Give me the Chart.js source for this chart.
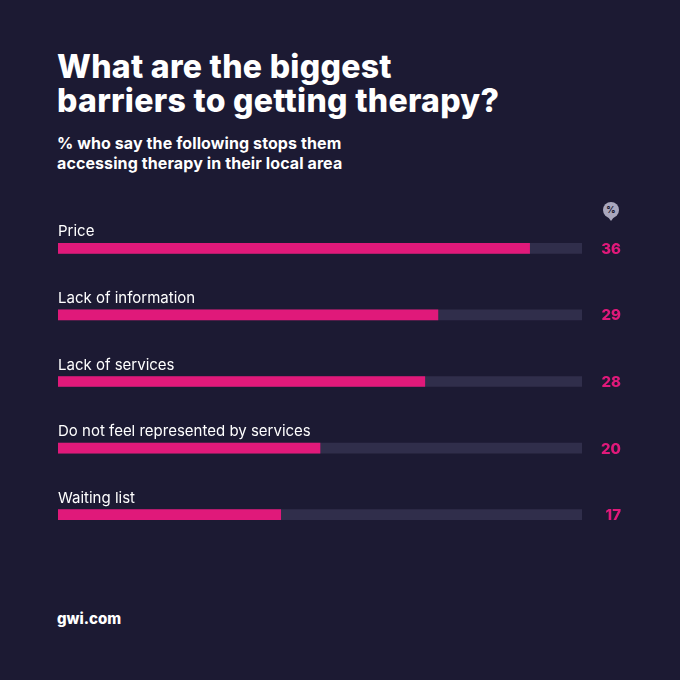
<!DOCTYPE html>
<html><head><meta charset="utf-8">
<script src="https://cdn.jsdelivr.net/npm/chart.js@4"></script>
<style>
body{margin:0;background:#1c1a33;font-family:Inter,"Noto Sans",sans-serif;color:#fff}
#wrap{position:relative;width:680px;height:680px;overflow:hidden}
h1{position:absolute;left:57px;top:50px;margin:0;font-size:32px;line-height:34px;font-weight:800;letter-spacing:0.3px}
h2{position:absolute;left:57px;top:133px;margin:0;font-size:16px;line-height:20px;font-weight:700;letter-spacing:0.1px}
#pct{position:absolute;left:603px;top:202px;width:16px;height:16px;border-radius:50%;background:#a9a7bd;color:#1c1a33;font-size:9px;font-weight:800;text-align:center;line-height:16px}
#pct:after{content:"";position:absolute;left:5px;top:15px;border:3px solid transparent;border-top:4px solid #a9a7bd}
#foot{position:absolute;left:57px;top:609px;font-size:15px;font-weight:800}
#c{position:absolute;left:0;top:215px}
</style></head><body>
<div id="wrap">
<h1>What are the biggest<br>barriers to getting therapy?</h1>
<h2>% who say the following stops them<br>accessing therapy in their local area</h2>
<div id="pct">%</div>
<canvas id="c" width="680" height="333"></canvas>
<div id="foot">gwi.com</div>
</div>
<script>
const categories = ['Price','Lack of information','Lack of services','Do not feel represented by services','Waiting list'];
const values = [36, 29, 28, 20, 17];
const trackMax = 40;

const labelsPlugin = {
  id: 'rowLabels',
  afterDatasetsDraw(chart) {
    const c = chart.ctx, meta = chart.getDatasetMeta(0);
    c.save();
    meta.data.forEach((bar, i) => {
      c.font = '400 15px Inter, "Noto Sans", sans-serif';
      c.fillStyle = '#ffffff';
      c.textAlign = 'left';
      c.textBaseline = 'alphabetic';
      c.fillText(categories[i], chart.chartArea.left, bar.y - 12);
      c.font = '800 15px Inter, "Noto Sans", sans-serif';
      c.fillStyle = '#e0197a';
      c.textAlign = 'right';
      c.textBaseline = 'middle';
      c.fillText(values[i], 621, bar.y + 1);
    });
    c.restore();
  }
};

new Chart(document.getElementById('c'), {
  type: 'bar',
  data: {
    labels: categories,
    datasets: [
      {data: values, backgroundColor: '#e0197a', barThickness: 10, grouped: false, order: 0},
      {data: categories.map(() => trackMax), backgroundColor: '#302e4b', barThickness: 10, grouped: false, order: 1}
    ]
  },
  options: {
    indexAxis: 'y',
    responsive: false,
    animation: false,
    layout: {padding: {left: 58, right: 98, top: 0, bottom: 0}},
    scales: {
      x: {display: false, min: 0, max: trackMax},
      y: {display: false}
    },
    plugins: {legend: {display: false}, tooltip: {enabled: false}}
  },
  plugins: [labelsPlugin]
});
</script>
</body></html>
